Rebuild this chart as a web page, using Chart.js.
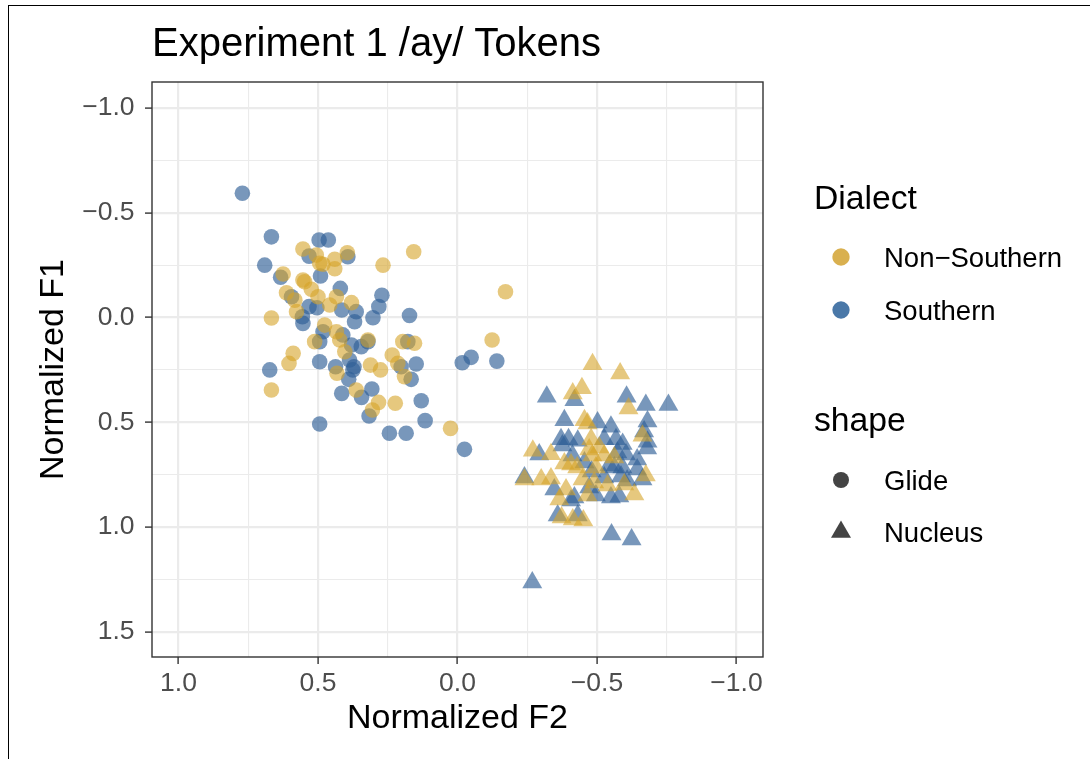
<!DOCTYPE html>
<html>
<head>
<meta charset="utf-8">
<script src="https://cdn.jsdelivr.net/npm/chart.js@4.4.1/dist/chart.umd.min.js"></script>
<style>
  html, body { margin: 0; padding: 0; background: #fff; }
  body { width: 1090px; height: 759px; position: relative; overflow: hidden; font-family: "Liberation Sans", Arial, Helvetica, sans-serif; }
  #wrap { position: absolute; left: 0; top: 0; width: 1090px; height: 759px; }
  #frame { position: absolute; left: 8px; top: 5px; width: 1100px; height: 800px; border-left: 1px solid #000; border-top: 1px solid #000; pointer-events: none; }
  .lg { position: absolute; white-space: nowrap; color: #000; }
  .lgt { font-size: 33.7px; line-height: 33.7px; }
  .lgi { font-size: 27.5px; line-height: 27.5px; }
  .key { position: absolute; }
</style>
</head>
<body>
<div id="wrap"><canvas id="c" width="1090" height="759"></canvas></div>
<div id="frame"></div>
<div id="legend"></div>
<script>
// ---- data (Normalized F2 = x, Normalized F1 = y) ----
const dialects = ["Non\u2212Southern", "Southern"];
const shapes = ["Glide", "Nucleus"];

const glideNonSouthernF2 = [0.554,0.506,0.440,0.395,0.157,0.625,0.494,0.482,0.440,0.267,0.554,0.548,0.524,0.613,0.583,0.500,0.434,0.380,0.577,0.458,0.667,0.512,0.476,0.434,0.422,0.321,0.404,0.589,0.604,0.432,0.312,0.276,0.234,0.196,0.154,0.214,0.190,0.667,0.363,0.283,0.223,0.305,0.025,-0.172,-0.124];
const glideNonSouthernF1 = [-0.327,-0.298,-0.278,-0.309,-0.314,-0.208,-0.259,-0.254,-0.233,-0.250,-0.179,-0.171,-0.135,-0.118,-0.083,-0.099,-0.099,-0.071,-0.028,-0.060,0.002,0.115,0.036,0.068,0.107,0.107,0.163,0.171,0.219,0.266,0.227,0.250,0.179,0.115,0.123,0.219,0.282,0.346,0.346,0.405,0.409,0.441,0.529,-0.123,0.107];

const glideSouthernF2 = [0.771,0.667,0.496,0.463,0.532,0.393,0.691,0.634,0.491,0.420,0.595,0.271,0.282,0.532,0.504,0.415,0.363,0.556,0.172,0.303,0.554,0.494,0.482,0.411,0.369,0.345,0.321,0.380,0.178,0.673,0.494,0.437,0.387,0.371,0.375,0.202,0.166,0.148,0.390,0.415,0.344,0.307,0.317,0.130,0.116,0.494,0.244,0.184,-0.049,-0.017,-0.141,-0.025];
const glideSouthernF1 = [-0.593,-0.385,-0.370,-0.370,-0.293,-0.290,-0.250,-0.192,-0.198,-0.139,-0.099,-0.106,-0.052,-0.052,-0.047,-0.036,-0.028,-0.004,-0.010,0.001,0.028,0.115,0.068,0.083,0.020,0.139,0.115,0.131,0.115,0.250,0.211,0.235,0.203,0.235,0.250,0.235,0.295,0.222,0.295,0.362,0.381,0.341,0.470,0.397,0.492,0.508,0.552,0.552,0.190,0.216,0.208,0.629];

const nucleusNonSouthernF2 = [-0.484,-0.583,-0.413,-0.446,-0.613,-0.455,-0.466,-0.663,-0.479,-0.270,-0.335,-0.240,-0.300,-0.335,-0.389,-0.365,-0.448,-0.490,-0.466,-0.538,-0.598,-0.634,-0.675,-0.373,-0.413,-0.451,-0.526,-0.483,-0.383,-0.407,-0.472,-0.496,-0.508,-0.562,-0.429];
const nucleusNonSouthernF1 = [0.223,0.267,0.363,0.337,0.434,0.490,0.506,0.564,0.581,0.636,0.652,0.773,0.773,0.768,0.821,0.868,0.773,0.787,0.849,0.802,0.797,0.844,0.754,0.954,0.964,0.969,0.658,0.658,0.697,0.701,0.630,0.716,0.620,0.668,0.716];

const nucleusSouthernF2 = [-0.320,-0.419,-0.606,-0.675,-0.756,-0.383,-0.502,-0.550,-0.681,-0.669,-0.681,-0.371,-0.398,-0.431,-0.526,-0.568,-0.592,-0.293,-0.240,-0.347,-0.419,-0.407,-0.481,-0.472,-0.496,-0.526,-0.550,-0.580,-0.608,-0.663,-0.359,-0.431,-0.552,-0.624,-0.268,-0.376,-0.573,-0.604,-0.644,-0.680,-0.455,-0.562,-0.591,-0.644,-0.412,-0.544,-0.586];
const nucleusSouthernF1 = [0.378,0.395,0.378,0.417,0.417,0.490,0.501,0.521,0.496,0.544,0.593,0.581,0.581,0.588,0.581,0.581,0.604,0.654,0.763,0.821,0.859,0.873,0.735,0.811,0.849,0.763,0.859,0.854,0.778,0.773,0.945,0.945,1.035,1.059,1.264,0.611,0.644,0.654,0.677,0.625,0.692,0.716,0.716,0.725,0.658,0.706,0.759];

const xTickValues = [-1.0,-0.75,-0.5,-0.25,0,0.25,0.5,0.75,1.0];
const yTickValues = [-1.0,-0.75,-0.5,-0.25,0,0.25,0.5,0.75,1.0,1.25,1.5];
const majorXTicks = [-1.0,-0.5,0,0.5,1.0];
const majorYTicks = [-1.0,-0.5,0,0.5,1.0,1.5];

// ---- styles ----
const GOLD = 'rgba(214,163,40,0.6)';
const BLUE = 'rgba(47,95,150,0.65)';
const FONT = '"Liberation Sans", Arial, Helvetica, sans-serif';

function zip(xs, ys) { return xs.map((x, i) => ({ x: x, y: ys[i] })); }
function isMajor(v, list) { return list.some(m => Math.abs(m - v) < 1e-9); }
function fmt(v) { return v.toFixed(1).replace('-', '\u2212'); }

const panelBorder = {
  id: 'panelBorder',
  afterDatasetsDraw(chart) {
    const a = chart.chartArea, ctx = chart.ctx;
    ctx.save();
    ctx.strokeStyle = '#333333';
    ctx.lineWidth = 1.4;
    ctx.strokeRect(a.left, a.top, a.right - a.left, a.bottom - a.top);
    ctx.restore();
  }
};

new Chart(document.getElementById('c'), {
  type: 'scatter',
  data: {
    datasets: [
      { label: dialects[0] + ' ' + shapes[0], data: zip(glideNonSouthernF2, glideNonSouthernF1), pointStyle: 'circle', pointRadius: 7.8, backgroundColor: GOLD, borderWidth: 0 },
      { label: dialects[1] + ' ' + shapes[0], data: zip(glideSouthernF2, glideSouthernF1), pointStyle: 'circle', pointRadius: 7.8, backgroundColor: BLUE, borderWidth: 0 },
      { label: dialects[0] + ' ' + shapes[1], data: zip(nucleusNonSouthernF2, nucleusNonSouthernF1), pointStyle: 'triangle', pointRadius: 11.5, backgroundColor: GOLD, borderWidth: 0 },
      { label: dialects[1] + ' ' + shapes[1], data: zip(nucleusSouthernF2, nucleusSouthernF1), pointStyle: 'triangle', pointRadius: 11.5, backgroundColor: BLUE, borderWidth: 0 }
    ]
  },
  options: {
    responsive: false,
    devicePixelRatio: 1,
    animation: false,
    events: [],
    layout: { padding: { left: 0, right: 327, top: 0, bottom: 0 } },
    plugins: {
      legend: { display: false },
      tooltip: { enabled: false },
      title: {
        display: true,
        text: 'Experiment 1 /ay/ Tokens',
        align: 'start',
        fullSize: false,
        color: '#000',
        font: { family: FONT, size: 40, weight: 'normal' },
        padding: { top: 20.8, bottom: 13.2 }
      }
    },
    scales: {
      x: {
        type: 'linear',
        reverse: true,
        min: -1.095,
        max: 1.095,
        afterBuildTicks: s => { s.ticks = xTickValues.map(v => ({ value: v })); },
        afterFit: s => { s.height = 102; },
        ticks: {
          autoSkip: false, maxRotation: 0, padding: 4,
          color: '#4D4D4D', font: { family: FONT, size: 26.5 },
          callback: v => isMajor(v, majorXTicks) ? fmt(v) : ''
        },
        grid: {
          color: '#EBEBEB',
          lineWidth: c => (c.tick && isMajor(c.tick.value, majorXTicks)) ? 2.2 : 1.1,
          tickColor: c => (c.tick && isMajor(c.tick.value, majorXTicks)) ? '#333333' : 'rgba(0,0,0,0)',
          tickLength: 7, tickWidth: 1.4
        },
        border: { display: false },
        title: { display: true, text: 'Normalized F2', color: '#000', font: { family: FONT, size: 34, weight: 'normal' }, padding: { top: 0, bottom: 19.6 } }
      },
      y: {
        type: 'linear',
        position: 'left',
        reverse: true,
        min: -1.124,
        max: 1.62,
        afterBuildTicks: s => { s.ticks = yTickValues.map(v => ({ value: v })); },
        afterFit: s => { s.width = 152; },
        ticks: {
          autoSkip: false, padding: 10.5,
          color: '#4D4D4D', font: { family: FONT, size: 26.5 },
          callback: v => isMajor(v, majorYTicks) ? fmt(v) : ''
        },
        grid: {
          color: '#EBEBEB',
          lineWidth: c => (c.tick && isMajor(c.tick.value, majorYTicks)) ? 2.2 : 1.1,
          tickColor: c => (c.tick && isMajor(c.tick.value, majorYTicks)) ? '#333333' : 'rgba(0,0,0,0)',
          tickLength: 7, tickWidth: 1.4
        },
        border: { display: false },
        title: { display: true, text: 'Normalized F1', color: '#000', font: { family: FONT, size: 34, weight: 'normal' }, padding: { top: 33.6, bottom: 0 } }
      }
    }
  },
  plugins: [panelBorder]
});

// ---- legend (HTML) ----
const legendItems = [
  { kind: 'title', text: 'Dialect', top: 180.8 },
  { kind: 'item', text: dialects[0], top: 244, cy: 257, key: 'circle', color: '#D9B04F', d: 17.3 },
  { kind: 'item', text: dialects[1], top: 297.3, cy: 310, key: 'circle', color: '#4A78A8', d: 17.3 },
  { kind: 'title', text: 'shape', top: 403.2 },
  { kind: 'item', text: shapes[0], top: 467.3, cy: 480, key: 'circle', color: '#444444', d: 16 },
  { kind: 'item', text: shapes[1], top: 519, cy: 532, key: 'triangle', color: '#444444', d: 20 }
];
const lg = document.getElementById('legend');
legendItems.forEach(it => {
  const t = document.createElement('div');
  t.className = 'lg ' + (it.kind === 'title' ? 'lgt' : 'lgi');
  t.style.left = (it.kind === 'title' ? 814 : 884) + 'px';
  t.style.top = it.top + 'px';
  t.textContent = it.text;
  lg.appendChild(t);
  if (it.kind === 'item') {
    const s = 24;
    const ns = 'http://www.w3.org/2000/svg';
    const svg = document.createElementNS(ns, 'svg');
    svg.setAttribute('width', s); svg.setAttribute('height', s);
    svg.setAttribute('class', 'key');
    svg.style.left = (841 - s / 2) + 'px';
    svg.style.top = (it.cy - s / 2) + 'px';
    let el;
    if (it.key === 'circle') {
      el = document.createElementNS(ns, 'circle');
      el.setAttribute('cx', s / 2); el.setAttribute('cy', s / 2); el.setAttribute('r', it.d / 2);
    } else {
      const r = it.d / Math.sqrt(3);
      const c = s / 2;
      el = document.createElementNS(ns, 'polygon');
      el.setAttribute('points', [c, c - r, c + it.d / 2, c + r / 2, c - it.d / 2, c + r / 2].join(' ').replace(/(\S+) (\S+)/g, '$1,$2'));
    }
    el.setAttribute('fill', it.color);
    svg.appendChild(el);
    lg.appendChild(svg);
  }
});
</script>
</body>
</html>
